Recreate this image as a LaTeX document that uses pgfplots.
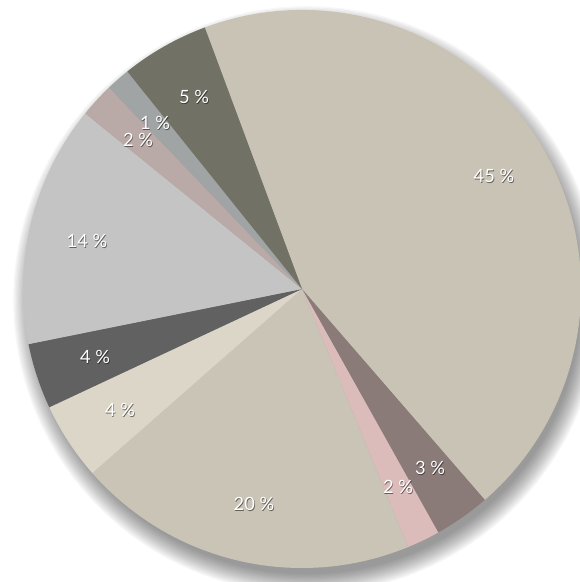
\documentclass[border=0pt]{standalone}
\usepackage{pgfplots}
\pgfplotsset{compat=1.18}
\usepackage{fontspec}
\setmainfont{Lato}
\definecolor{cA}{HTML}{C9C3B5}
\definecolor{cB}{HTML}{8A7B79}
\definecolor{cC}{HTML}{DCBCBB}
\definecolor{cD}{HTML}{CAC4B6}
\definecolor{cE}{HTML}{DCD6C9}
\definecolor{cF}{HTML}{616161}
\definecolor{cG}{HTML}{C4C4C4}
\definecolor{cH}{HTML}{B9AAA7}
\definecolor{cI}{HTML}{A1A4A4}
\definecolor{cJ}{HTML}{727165}
\begin{document}
\begin{tikzpicture}
% slice values (percent), clockwise from the top-left edge of the 45 % slice
\pgfmathsetmacro\aA{110.4}
\pgfmathsetmacro\aB{\aA-3.6*44.3}
\pgfmathsetmacro\aC{\aB-3.6*3.25}
\pgfmathsetmacro\aD{\aC-3.6*1.9}
\pgfmathsetmacro\aE{\aD-3.6*19.75}
\pgfmathsetmacro\aF{\aE-3.6*4.5}
\pgfmathsetmacro\aG{\aF-3.6*3.8}
\pgfmathsetmacro\aH{\aG-3.6*14}
\pgfmathsetmacro\aI{\aH-3.6*2}
\pgfmathsetmacro\aJ{\aI-3.6*1.4}
\pgfmathsetmacro\aK{\aJ-3.6*5.1}
\def\R{279}
\begin{axis}[hide axis, disabledatascaling, x=0.025cm, y=0.025cm,
  xmin=-302, xmax=277, ymin=-293, ymax=289, clip=false]
\pgfplotsinvokeforeach{16,15,...,1}{
  \fill[black, opacity=0.033] (axis cs:5,-11) circle[radius={(273+#1*1.3)*0.025cm}];
}
\newcommand\slice[3]{%
  \fill[#3] (axis cs:0,0) -- (axis cs:{\R*cos(#1)},{\R*sin(#1)})
     arc[start angle=#1, end angle=#2, radius=6.975cm] -- cycle;}
\slice{\aA}{\aB}{cA}
\slice{\aB}{\aC}{cB}
\slice{\aC}{\aD}{cC}
\slice{\aD}{\aE}{cD}
\slice{\aE}{\aF}{cE}
\slice{\aF}{\aG}{cF}
\slice{\aG}{\aH}{cG}
\slice{\aH}{\aI}{cH}
\slice{\aI}{\aJ}{cI}
\slice{\aJ}{\aK}{cJ}
\newcommand\lab[3]{%
  \node[text=black, opacity=0.5, font=\fontsize{13}{15}\selectfont] at ([xshift=0.5pt,yshift=-0.8pt]axis cs:#1,#2) {#3};
  \node[text=white, font=\fontsize{13}{15}\selectfont] at (axis cs:#1,#2) {#3};}
\lab{192}{113}{45 \%}
\lab{128}{-179}{3 \%}
\lab{96}{-198}{2 \%}
\lab{-48}{-215}{20 \%}
\lab{-182}{-121}{4 \%}
\lab{-207}{-68}{4 \%}
\lab{-215}{48}{14 \%}
\lab{-164}{149}{2 \%}
\lab{-147}{166}{1 \%}
\lab{-108}{192}{5 \%}
\end{axis}
\pgfresetboundingbox
\useasboundingbox (current axis.south west) rectangle (current axis.north east);
\end{tikzpicture}
\end{document}
